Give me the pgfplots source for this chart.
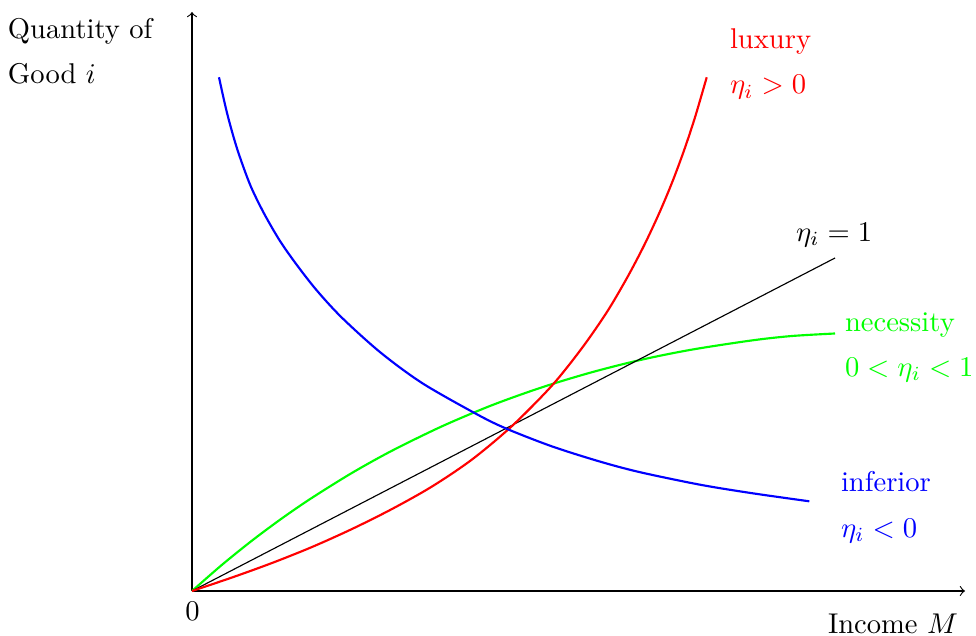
\documentclass[border=0pt]{standalone}
\usepackage{pgfplots}
\pgfplotsset{compat=1.18}
\tikzset{lab/.style={inner sep=0pt, outer sep=0pt}}
\begin{document}
\begin{tikzpicture}
\begin{axis}[
  x=0.35pt, y=0.35pt,
  xmin=0, xmax=773, ymin=0, ymax=579,
  axis lines=left,
  axis line style={->, line width=0.4pt},
  ticks=none,
  clip=false,
]
% Necessity (green)
\addplot[green, line width=0.75pt, smooth] coordinates {
(0,0) (30,26.2) (60,50.4) (90,72.7) (120,93.2) (160,118.1) (200,140.3)
(250,164.7) (300,185.8) (350,203.7) (400,218.8) (450,231.4) (500,241.4)
(560,250.6) (600,255.0) (643,257.5)};
% eta = 1 (black)
\addplot[black, line width=0.4pt] coordinates {(0,0) (643,333)};
% Luxury (red)
\addplot[red, line width=0.75pt, smooth] coordinates {
(0,0) (40,13.5) (80,28) (120,44) (160,62) (200,82) (240,104.5)
(280,131.5) (320,165) (360,205.5) (390,243) (415,279.1) (435,313.1)
(452,345.4) (467,377.4) (480,408.3) (492,440.5) (503,473.7) (514.7,513.7)};
% Inferior (blue)
\addplot[blue, line width=0.75pt, smooth] coordinates {
(27,513.7) (35,478.1) (45,442.6) (58,406.5) (72,377.6) (88,350.0)
(105,325.8) (125,300.3) (150,273.2) (188,238.9) (230,208.0) (284,177.2)
(314,162.5) (360,144.6) (408,129.4) (448,118.8) (508,106.3) (560,97.8)
(617.3,89.7)};

\node[lab, anchor=base west] at (axis cs:-184,552.7) {Quantity of};
\node[lab, anchor=base west] at (axis cs:-184,507.7) {Good $i$};
\node[lab, anchor=base] at (axis cs:0.5,-29) {$0$};
\node[lab, anchor=base east] at (axis cs:766,-42) {Income $M$};
\node[lab, anchor=base west, red] at (axis cs:538,542) {luxury};
\node[lab, anchor=base west, red] at (axis cs:538,497) {$\eta_i>0$};
\node[lab, anchor=base west] at (axis cs:604,349.3) {$\eta_i=1$};
\node[lab, anchor=base west, green] at (axis cs:653,259.3) {necessity};
\node[lab, anchor=base west, green] at (axis cs:653,214.3) {$0<\eta_i<1$};
\node[lab, anchor=base west, blue] at (axis cs:649,99.3) {inferior};
\node[lab, anchor=base west, blue] at (axis cs:649,53.7) {$\eta_i<0$};
\end{axis}
\pgfresetboundingbox
\path[use as bounding box] (-67.2pt,-15.4pt) rectangle (274.4pt,206.85pt);
\end{tikzpicture}
\end{document}
